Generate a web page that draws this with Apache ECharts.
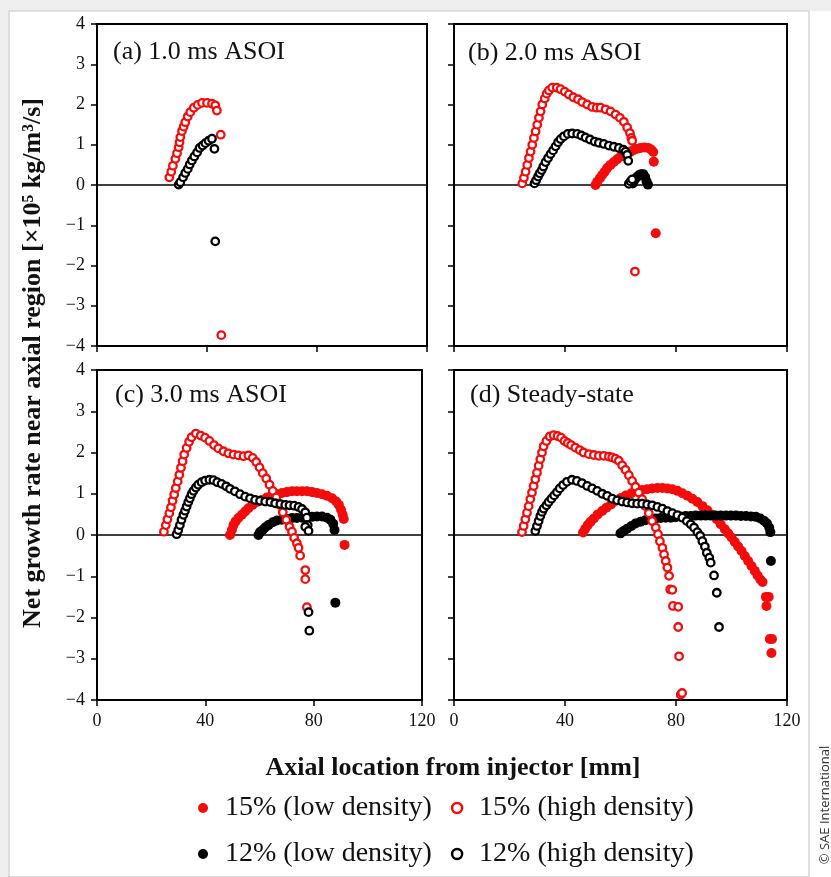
<!DOCTYPE html>
<html><head><meta charset="utf-8">
<script src="https://cdn.jsdelivr.net/npm/echarts@6/dist/echarts.min.js"></script>
<style>html,body{margin:0;padding:0;background:#fff}#c{width:831px;height:877px}</style>
</head><body><div id="c"></div>
<script>
// ---- categories / labels ----
const seriesNames = ['15% (low density)', '15% (high density)', '12% (low density)', '12% (high density)'];
const panelTitles = ['(a) 1.0 ms ASOI', '(b) 2.0 ms ASOI', '(c) 3.0 ms ASOI', '(d) Steady-state'];
const xAxisTitle = 'Axial location from injector [mm]';
const yAxisTitle = 'Net growth rate near axial region [×10⁵ kg/m³/s]';
const xRange = [0, 120], xStep = 40;
const yRange = [-4, 4], yStep = 1;

// ---- data: [axial location mm, net growth rate] ----
// (a) 1.0 ms ASOI
const a15High = [[26.3,0.19],[27.0,0.33],[27.6,0.48],[28.5,0.65],[29.1,0.79],[29.7,0.94],[30.0,1.06],[30.3,1.19],[30.9,1.34],[31.5,1.45],[32.1,1.56],[33.0,1.70],[33.9,1.81],[35.2,1.92],[36.6,1.99],[38.2,2.04],[40.0,2.04],[41.8,2.02],[43.0,1.98],[43.6,1.85],[45.0,1.25],[45.2,-3.73]];
const a12High = [[29.7,0.01],[30.3,0.07],[31.3,0.19],[32.1,0.30],[33.0,0.40],[33.7,0.51],[34.5,0.61],[35.4,0.71],[36.4,0.81],[37.3,0.92],[38.4,0.98],[39.4,1.04],[40.6,1.10],[41.8,1.15],[42.7,0.90],[43.0,-1.40]];
const a15Low = [];
const a12Low = [];
// (b) 2.0 ms ASOI
const b15High = [[24.6,0.04],[25.2,0.18],[25.8,0.33],[26.4,0.5],[27.0,0.67],[27.6,0.83],[28.2,1.0],[28.8,1.17],[29.4,1.33],[30.0,1.5],[30.6,1.67],[31.2,1.83],[31.8,2.0],[32.7,2.15],[33.4,2.27],[34.2,2.35],[35.4,2.42],[37.0,2.42],[38.4,2.38],[39.9,2.32],[41.4,2.25],[43.0,2.18],[44.7,2.13],[46.2,2.06],[48.0,2.0],[49.8,1.94],[51.4,1.92],[52.8,1.92],[54.6,1.88],[56.4,1.83],[58.2,1.75],[59.8,1.67],[61.2,1.57],[62.4,1.43],[63.4,1.29],[63.9,1.17],[64.2,1.10],[65.2,-2.15]];
const b12High = [[29.0,0.04],[29.6,0.12],[30.3,0.21],[30.9,0.29],[31.6,0.37],[32.2,0.46],[33.0,0.57],[33.9,0.67],[34.8,0.77],[35.7,0.86],[36.6,0.96],[37.5,1.06],[38.4,1.14],[39.6,1.21],[41.0,1.27],[42.6,1.28],[44.4,1.27],[45.9,1.23],[47.4,1.18],[49.0,1.13],[50.7,1.08],[52.2,1.05],[54.0,1.02],[55.8,0.98],[57.6,0.95],[59.4,0.92],[61.0,0.88],[61.8,0.83],[62.4,0.75],[62.8,0.60],[63.0,0.03],[63.6,0.09],[64.2,0.14]];
const b15Low = [[51.0,0.0],[51.6,0.08],[52.6,0.17],[53.4,0.25],[54.3,0.33],[55.2,0.42],[56.4,0.50],[57.6,0.57],[58.8,0.64],[60.0,0.70],[61.2,0.75],[62.4,0.79],[63.6,0.83],[64.8,0.87],[66.0,0.90],[67.2,0.92],[68.6,0.93],[70.0,0.92],[71.0,0.88],[71.8,0.82],[72.0,0.58],[72.7,-1.20]];
const b12Low = [[64.4,0.04],[65.0,0.12],[65.8,0.19],[66.6,0.24],[67.4,0.27],[68.2,0.27],[68.9,0.20],[69.4,0.09],[69.9,0.01]];
// (c) 3.0 ms ASOI
const c15High = [[24.7,0.08],[25.4,0.24],[26.0,0.38],[26.7,0.53],[27.3,0.67],[27.9,0.83],[28.5,0.98],[29.1,1.14],[29.8,1.30],[30.4,1.46],[31.0,1.63],[31.6,1.79],[32.2,1.95],[33.1,2.11],[34.0,2.26],[34.9,2.37],[36.5,2.46],[38.3,2.41],[39.9,2.36],[41.5,2.28],[43.2,2.18],[44.8,2.10],[46.7,2.03],[48.5,1.98],[50.4,1.95],[52.2,1.93],[54.1,1.91],[55.9,1.93],[57.5,1.87],[58.8,1.77],[60.0,1.64],[61.2,1.50],[62.5,1.37],[63.7,1.22],[64.9,1.07],[66.2,0.91],[67.4,0.73],[68.6,0.55],[69.9,0.37],[71.1,0.20],[72.0,0.08],[72.8,-0.07],[73.8,-0.20],[74.4,-0.31],[75.0,-0.50],[76.9,-0.85],[76.9,-1.07],[77.5,-1.75]];
const c12High = [[29.4,0.02],[30.0,0.12],[30.6,0.24],[31.2,0.37],[31.9,0.49],[32.5,0.59],[33.1,0.69],[33.7,0.80],[34.3,0.89],[34.9,0.99],[35.6,1.07],[36.5,1.15],[37.4,1.22],[38.6,1.28],[39.9,1.32],[41.5,1.34],[43.0,1.33],[44.4,1.28],[46.0,1.24],[47.7,1.18],[49.1,1.12],[50.9,1.06],[52.8,0.99],[54.7,0.93],[56.5,0.89],[58.4,0.85],[60.2,0.83],[62.1,0.81],[64.0,0.80],[65.8,0.77],[67.7,0.75],[69.5,0.73],[71.1,0.72],[72.8,0.71],[74.4,0.68],[75.7,0.63],[76.9,0.55],[77.5,0.42],[77.8,0.24],[76.9,0.20],[78.1,0.10],[78.1,-1.87],[78.4,-2.32]];
const c15Low = [[49.1,0.0],[49.8,0.12],[50.4,0.24],[51.2,0.33],[52.2,0.41],[53.5,0.49],[54.7,0.57],[55.9,0.65],[57.4,0.73],[59.0,0.80],[60.9,0.85],[62.7,0.91],[64.6,0.96],[66.4,0.99],[68.3,1.02],[70.1,1.04],[72.0,1.06],[73.8,1.06],[75.7,1.06],[77.5,1.06],[79.4,1.04],[81.2,1.02],[83.1,0.99],[84.9,0.95],[86.8,0.89],[88.3,0.81],[89.3,0.73],[90.1,0.61],[90.7,0.49],[91.1,0.39],[91.4,-0.24]];
const c12Low = [[59.6,0.0],[60.2,0.07],[61.2,0.12],[62.1,0.18],[63.3,0.24],[64.9,0.31],[66.4,0.35],[68.3,0.37],[70.1,0.39],[72.0,0.41],[73.8,0.41],[75.7,0.42],[77.5,0.43],[79.4,0.44],[81.2,0.45],[83.1,0.45],[84.9,0.42],[86.2,0.37],[87.2,0.27],[87.7,0.12],[88.0,-1.64]];
// (d) Steady-state
const d15High = [[24.5,0.07],[25.1,0.22],[25.7,0.38],[26.3,0.54],[26.9,0.70],[27.5,0.87],[28.1,1.03],[28.7,1.19],[29.3,1.35],[29.9,1.51],[30.5,1.68],[31.1,1.84],[31.7,2.0],[32.3,2.15],[33.3,2.28],[34.5,2.39],[35.9,2.42],[37.3,2.40],[38.6,2.36],[39.8,2.28],[41.0,2.23],[42.2,2.18],[43.7,2.12],[45.3,2.06],[46.7,2.0],[48.6,1.96],[50.4,1.94],[52.2,1.92],[54.0,1.92],[55.8,1.90],[57.0,1.88],[58.2,1.85],[59.4,1.80],[60.6,1.69],[61.8,1.58],[63.0,1.45],[64.2,1.31],[65.4,1.17],[66.6,1.03],[67.8,0.87],[69.0,0.70],[70.2,0.53],[71.4,0.34],[72.7,0.18],[73.5,0.02],[74.2,-0.15],[75.1,-0.31],[75.7,-0.47],[76.3,-0.63],[76.9,-0.79],[77.5,-0.99],[77.9,-1.32],[78.7,-1.33],[78.9,-1.72],[80.8,-1.74],[80.8,-2.23],[81.1,-2.94],[81.7,-3.87],[82.2,-3.83]];
const d12High = [[29.3,0.10],[29.9,0.22],[30.5,0.34],[31.1,0.46],[31.7,0.56],[32.3,0.64],[33.3,0.72],[34.1,0.80],[35.1,0.88],[36.1,0.96],[37.1,1.04],[38.1,1.13],[39.3,1.21],[40.7,1.29],[42.5,1.34],[44.3,1.31],[46.1,1.26],[48.0,1.19],[49.8,1.13],[51.6,1.07],[53.4,1.0],[55.2,0.95],[57.0,0.88],[58.8,0.84],[60.6,0.81],[62.4,0.79],[64.2,0.77],[66.0,0.76],[67.8,0.76],[69.6,0.74],[71.4,0.72],[73.3,0.68],[75.1,0.64],[76.9,0.58],[78.7,0.53],[80.5,0.48],[82.3,0.42],[83.9,0.34],[85.3,0.26],[86.5,0.18],[87.7,0.07],[88.7,-0.02],[89.5,-0.15],[90.4,-0.28],[91.1,-0.43],[92.0,-0.55],[92.5,-0.67],[93.7,-0.98],[94.7,-1.40],[95.5,-2.23]];
const d15Low = [[46.5,0.06],[47.3,0.15],[48.2,0.24],[49.2,0.32],[50.4,0.40],[51.8,0.50],[53.4,0.58],[54.9,0.66],[56.6,0.74],[58.4,0.83],[60.2,0.90],[62.0,0.96],[63.9,1.01],[65.8,1.06],[67.8,1.09],[69.6,1.11],[71.4,1.13],[73.3,1.14],[75.1,1.14],[76.9,1.13],[78.7,1.11],[80.5,1.07],[82.3,1.01],[84.1,0.95],[85.9,0.88],[87.7,0.80],[89.5,0.70],[91.3,0.60],[93.1,0.49],[94.7,0.38],[96.1,0.26],[97.6,0.14],[98.8,0.04],[100.0,-0.06],[101.2,-0.17],[102.4,-0.28],[103.6,-0.39],[104.8,-0.51],[106.0,-0.63],[107.2,-0.75],[108.4,-0.87],[109.4,-0.98],[110.4,-1.08],[111.2,-1.14],[112.4,-1.50],[113.4,-1.50],[112.6,-1.72],[113.8,-2.52],[114.6,-2.52],[114.4,-2.86]];
const d12Low = [[60.0,0.04],[61.2,0.10],[62.4,0.15],[63.9,0.22],[65.4,0.28],[67.2,0.32],[69.0,0.36],[70.8,0.38],[72.7,0.40],[74.5,0.41],[76.3,0.42],[78.1,0.42],[79.9,0.43],[81.7,0.45],[83.5,0.46],[85.3,0.46],[87.1,0.47],[88.9,0.47],[90.7,0.47],[92.5,0.47],[94.3,0.47],[96.1,0.47],[98.0,0.47],[99.8,0.47],[101.6,0.47],[103.4,0.46],[105.2,0.46],[107.0,0.45],[108.8,0.44],[110.4,0.40],[111.8,0.34],[112.8,0.28],[113.6,0.18],[114.0,0.07],[114.2,-0.63]];

const panels = [
  {low15: a15Low, high15: a15High, low12: a12Low, high12: a12High},
  {low15: b15Low, high15: b15High, low12: b12Low, high12: b12High},
  {low15: c15Low, high15: c15High, low12: c12Low, high12: c12High},
  {low15: d15Low, high15: d15High, low12: d12Low, high12: d12High}
];

// ---- layout / style ----
const RED = '#f20c0c', BLACK = '#000000';
const SERIF = '"Liberation Serif", "Times New Roman", serif';
const grids = [
  {left: 97, top: 24, width: 330, height: 322},
  {left: 454, top: 24, width: 333, height: 322},
  {left: 97, top: 370, width: 325, height: 330},
  {left: 454, top: 370, width: 333, height: 330}
];
const titlePos = [[113, 39], [468, 40], [115, 382], [470, 382]];
const minus = v => (v < 0 ? '\u2212' + (-v) : String(v));

const styleFor = {
  '15% (low density)': {symbolSize: 10, itemStyle: {color: RED, opacity: 1}},
  '15% (high density)': {symbolSize: 7.5, itemStyle: {color: '#fff', borderColor: RED, borderWidth: 2.3, opacity: 1}},
  '12% (low density)': {symbolSize: 10, itemStyle: {color: BLACK, opacity: 1}},
  '12% (high density)': {symbolSize: 7.5, itemStyle: {color: '#fff', borderColor: BLACK, borderWidth: 2.3, opacity: 1}}
};

const xAxes = [], yAxes = [], series = [], titles = [];
grids.forEach((g, i) => {
  const bottomRow = i >= 2, leftCol = i % 2 === 0;
  xAxes.push({
    type: 'value', gridIndex: i, min: xRange[0], max: xRange[1], interval: xStep,
    axisLine: {show: true, onZero: false, lineStyle: {color: '#000', width: 2}},
    axisTick: {show: true, inside: false, length: 6, lineStyle: {color: '#000', width: 1.5}},
    axisLabel: {show: bottomRow, margin: 12, fontSize: 18, fontFamily: SERIF, color: '#111'},
    splitLine: {show: false}
  });
  yAxes.push({
    type: 'value', gridIndex: i, min: yRange[0], max: yRange[1], interval: yStep,
    axisLine: {show: true, onZero: false, lineStyle: {color: '#000', width: 2}},
    axisTick: {show: true, inside: false, length: 6, lineStyle: {color: '#000', width: 1.5}},
    axisLabel: {show: leftCol, margin: 12, fontSize: 18, fontFamily: SERIF, color: '#111', formatter: minus},
    splitLine: {show: false}
  });
  titles.push({
    text: panelTitles[i], left: titlePos[i][0], top: titlePos[i][1], padding: 0,
    textStyle: {fontFamily: SERIF, fontSize: 26, fontWeight: 'normal', color: '#111'}
  });
  const p = panels[i];
  const order = [['15% (low density)', p.low15], ['12% (low density)', p.low12], ['15% (high density)', p.high15], ['12% (high density)', p.high12]];
  order.forEach(([name, data], k) => {
    const s = {
      type: 'scatter', name, xAxisIndex: i, yAxisIndex: i, data,
      symbol: 'circle', symbolSize: styleFor[name].symbolSize,
      itemStyle: styleFor[name].itemStyle, emphasis: {disabled: true}, z: 3 + k
    };
    if (k === 2) {
      s.markLine = {silent: true, symbol: ['none', 'none'], z: 1, label: {show: false},
        lineStyle: {color: '#000', width: 1.6, type: 'solid'}, data: [{yAxis: 0}]};
    }
    series.push(s);
  });
});

const legendText = {fontFamily: SERIF, fontSize: 28, color: '#111'};
const option = {
  backgroundColor: '#ffffff',
  animation: false,
  title: titles,
  grid: grids.map(g => Object.assign({show: true, borderColor: '#000', borderWidth: 2, backgroundColor: 'transparent', containLabel: false}, g)),
  xAxis: xAxes,
  yAxis: yAxes,
  legend: [
    {left: 193, top: 789, itemWidth: 34, itemHeight: 10, itemGap: 19, selectedMode: false, textStyle: legendText, icon: 'circle',
      data: [{name: seriesNames[0], itemStyle: {color: RED}},
             {name: seriesNames[1], itemStyle: {color: '#fff', borderColor: RED, borderWidth: 2.5}}]},
    {left: 193, top: 835, itemWidth: 34, itemHeight: 10, itemGap: 19, selectedMode: false, textStyle: legendText, icon: 'circle',
      data: [{name: seriesNames[2], itemStyle: {color: BLACK}},
             {name: seriesNames[3], itemStyle: {color: '#fff', borderColor: BLACK, borderWidth: 2.5}}]}
  ],
  graphic: [
    {type: 'rect', z: -10, silent: true, shape: {x: 0, y: 0, width: 831, height: 11}, style: {fill: '#efefef'}},
    {type: 'rect', z: -10, silent: true, shape: {x: 0, y: 0, width: 9, height: 877}, style: {fill: '#efefef'}},
    {type: 'rect', z: -9, silent: true, shape: {x: 9, y: 11, width: 800, height: 866}, style: {fill: '#fff', stroke: '#d6d6d6', lineWidth: 1.5}},
    {type: 'text', x: 33, y: 363, rotation: Math.PI / 2, silent: true,
      style: {text: yAxisTitle, font: 'bold 26px ' + SERIF, fill: '#111', align: 'center', verticalAlign: 'middle'}},
    {type: 'text', x: 453, y: 768, silent: true,
      style: {text: xAxisTitle, font: 'bold 26px ' + SERIF, fill: '#111', align: 'center', verticalAlign: 'middle'}},
    {type: 'text', x: 825, y: 805, rotation: Math.PI / 2, silent: true,
      style: {text: '© SAE International', font: '13px "Open Sans", sans-serif', fill: '#333', align: 'center', verticalAlign: 'middle'}}
  ],
  series
};
const chart = echarts.init(document.getElementById('c'), null, {renderer: 'canvas'});
chart.setOption(option);
</script>
</body></html>
